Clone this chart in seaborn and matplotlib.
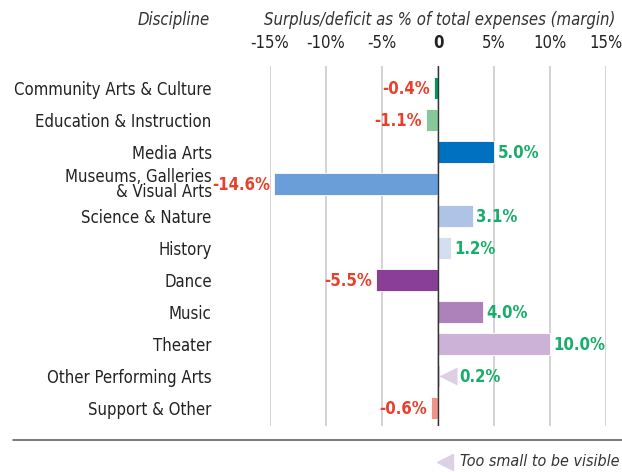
import matplotlib
matplotlib.use('Agg')
import matplotlib.pyplot as plt
import seaborn as sns

# Chart data
disciplines = ['Community Arts & Culture', 'Education & Instruction', 'Media Arts',
               'Museums, Galleries\n& Visual Arts', 'Science & Nature', 'History',
               'Dance', 'Music', 'Theater', 'Other Performing Arts', 'Support & Other']
margins = [-0.4, -1.1, 5.0, -14.6, 3.1, 1.2, -5.5, 4.0, 10.0, 0.2, -0.6]
bar_colors = ['#00985A', '#86C89B', '#0070C0', '#6A9ED8', '#AEC3E6', '#D4DEF1',
              '#8A3F97', '#AD82BA', '#CDB2D8', '#DDD0E6', '#F09389']
too_small = ['Other Performing Arts']
x_ticks = [-15, -10, -5, 0, 5, 10, 15]
x_tick_labels = ['-15%', '-10%', '-5%', '0', '5%', '10%', '15%']

sns.set_style('white')
plt.rcParams['font.family'] = ['DejaVu Sans']
plt.rcParams['font.stretch'] = 'condensed'

fig = plt.figure(figsize=(6.22, 4.72), dpi=100)
ax = fig.add_axes([270 / 622, 1 - 425.6 / 472, 336 / 622, (425.6 - 65.6) / 472])

labels = [d.replace('\n', ' ') for d in disciplines]
sns.barplot(x=margins, y=labels, hue=labels, palette=bar_colors, legend=False,
            orient='h', width=0.7, saturation=1, ax=ax, edgecolor='white', linewidth=0.6)

ax.set_xlim(-15, 15)
ax.set_ylim(10.55, -0.7)
for t in x_ticks:
    ax.axvline(t, color='#C8C8C8', lw=1.1, zorder=0)
ax.axvline(0, color='#333333', lw=1, zorder=3)

# top tick labels
ax.xaxis.tick_top()
ax.set_xticks(x_ticks)
ax.set_xticklabels(x_tick_labels, fontsize=12, color='#222222')
ax.tick_params(axis='x', length=0, pad=10)
ax.get_xticklabels()[3].set_fontweight('bold')

# category labels
ax.set_yticks(range(len(disciplines)))
ax.set_yticklabels(disciplines, fontsize=12, color='#222222', linespacing=0.8)
ax.tick_params(axis='y', length=0, pad=42)
for s in ax.spines.values():
    s.set_visible(False)
ax.set_xlabel('')
ax.set_ylabel('')

# value labels
for i, (name, v) in enumerate(zip(disciplines, margins)):
    txt = f'{v:.1f}%'
    if v < 0:
        ax.text(v - 0.35, i + 0.03, txt, ha='right', va='center', color='#E8402C',
                fontsize=12, fontweight='bold')
    elif name in too_small:
        ax.scatter([v + 0.65], [i], marker='<', s=170, color='#DDD0E6', zorder=4,
                   linewidths=0)
        ax.text(v + 1.7, i + 0.03, txt, ha='left', va='center', color='#19AD6A',
                fontsize=12, fontweight='bold')
    else:
        ax.text(v + 0.3, i + 0.03, txt, ha='left', va='center', color='#19AD6A',
                fontsize=12, fontweight='bold')

# headers
fig.text(210 / 622, 1 - 20 / 472, 'Discipline', ha='right', va='center',
         fontsize=12, style='italic', color='#333333')
fig.text(440 / 622, 1 - 20 / 472, 'Surplus/deficit as % of total expenses (margin)',
         ha='center', va='center', fontsize=12, style='italic', color='#333333')

# bottom rule and note
fig.add_artist(plt.Line2D([13 / 622, 1], [1 - 440 / 472] * 2, color='#555555', lw=1.1))
fig.add_artist(plt.Line2D([445 / 622], [1 - 462 / 472], marker='<', markersize=12,
                          color='#DDD0E6', linestyle='none'))
fig.text(619 / 622, 1 - 462 / 472, 'Too small to be visible', ha='right', va='center',
         fontsize=11.5, style='italic', color='#333333')

fig.savefig('out.png', dpi=100)
